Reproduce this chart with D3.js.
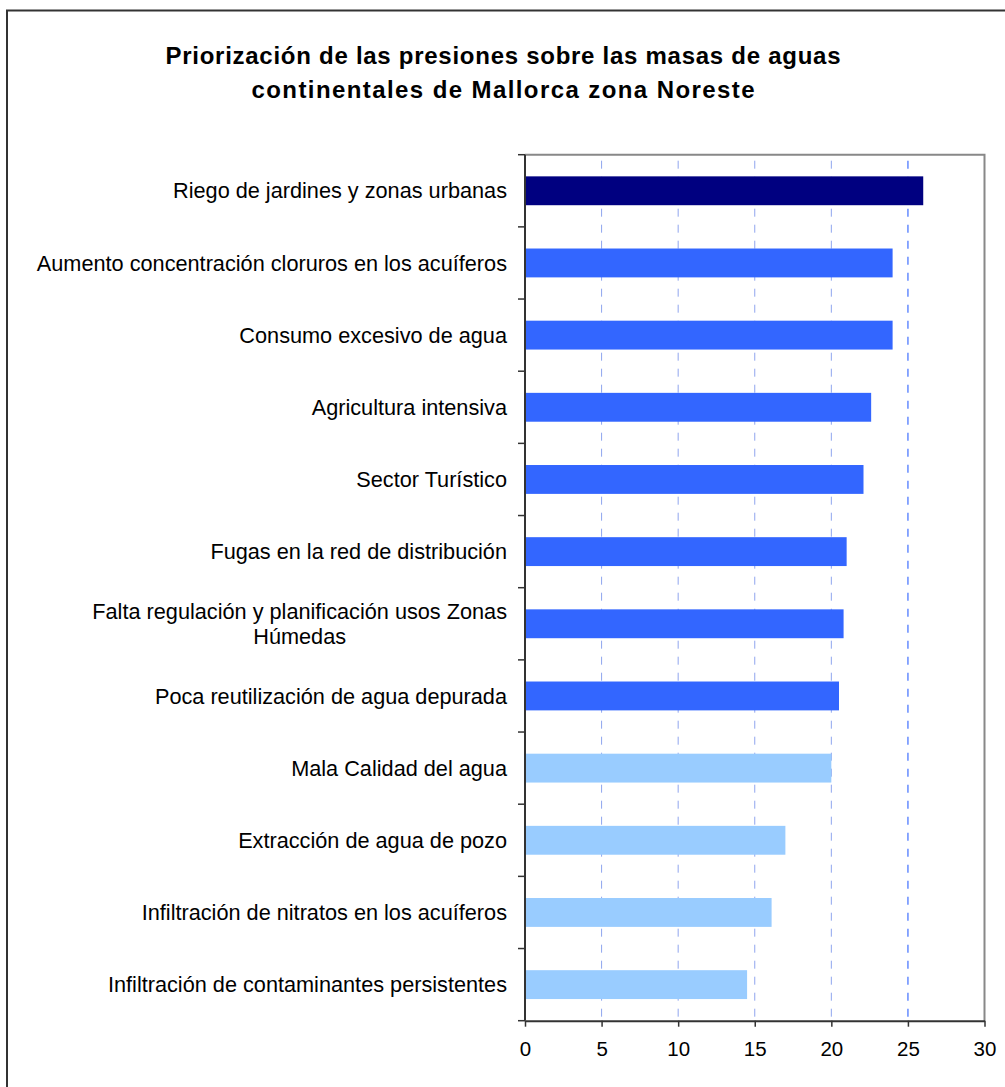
<!DOCTYPE html>
<html><head><meta charset="utf-8">
<script src="https://cdn.jsdelivr.net/npm/d3@7"></script>
<style>body{margin:0;background:#fff}svg{display:block}</style>
</head><body>
<svg id="c" width="1005" height="1087"></svg>
<script>
const titleLines = ["Priorización de las presiones sobre las masas de aguas", "continentales de Mallorca zona Noreste"];
const categories = [
  "Riego de jardines y zonas urbanas",
  "Aumento concentración cloruros en los acuíferos",
  "Consumo excesivo de agua",
  "Agricultura intensiva",
  "Sector Turístico",
  "Fugas en la red de distribución",
  "Falta regulación y planificación usos Zonas Húmedas",
  "Poca reutilización de agua depurada",
  "Mala Calidad del agua",
  "Extracción de agua de pozo",
  "Infiltración de nitratos en los acuíferos",
  "Infiltración de contaminantes persistentes"
];
const values = [26, 24, 24, 22.6, 22.1, 21, 20.8, 20.5, 20, 17, 16.1, 14.5];
const groups = ["top", "high", "high", "high", "high", "high", "high", "high", "low", "low", "low", "low"];
const xTicks = [0, 5, 10, 15, 20, 25, 30];

const colors = {top: "#000080", high: "#3366FF", low: "#99CCFF"};
const svg = d3.select("#c");
const font = "Arial, 'Liberation Sans', sans-serif";

// outer border
svg.append("rect").attr("x", 7).attr("y", 10.5).attr("width", 1010).attr("height", 1090)
  .attr("fill", "none").attr("stroke", "#333").attr("stroke-width", 2);

// title
const titleWidths = [675, 503];
svg.append("g").selectAll("text").data(titleLines).join("text")
  .attr("x", 503).attr("y", (d, i) => 64 + i * 34)
  .attr("text-anchor", "middle").attr("font-family", font).attr("font-weight", "bold")
  .attr("font-size", 24).attr("fill", "#000")
  .attr("textLength", (d, i) => titleWidths[i]).attr("lengthAdjust", "spacing")
  .text(d => d);

const L = 525, R = 984.5, T = 154.7, B = 1020.7;
const x = d3.scaleLinear().domain([0, 30]).range([L, R]);
const y = d3.scaleBand().domain(categories).range([T, B]).paddingInner(0.6).paddingOuter(0.3);

// plot border top/right
svg.append("path").attr("d", `M${L},${T}H${R}V${B}`).attr("fill", "none")
  .attr("stroke", "#888").attr("stroke-width", 2);

// gridlines
svg.append("g").selectAll("line").data(xTicks.filter(t => t > 0 && t < 30)).join("line")
  .attr("x1", d => x(d)).attr("x2", d => x(d)).attr("y1", T + 1).attr("y2", B)
  .attr("stroke", d => d === 25 ? "#7f9fff" : "#8fa5ee")
  .attr("stroke-width", d => d === 25 ? 1.8 : 1)
  .attr("stroke-dasharray", "8,8").attr("stroke-dashoffset", -5);

// bars
svg.append("g").selectAll("rect").data(categories).join("rect")
  .attr("x", x(0)).attr("y", d => y(d))
  .attr("width", (d, i) => x(values[i]) - x(0)).attr("height", y.bandwidth())
  .attr("fill", (d, i) => colors[groups[i]]);

// y axis: ticks at category boundaries
const step = y.step();
const boundaries = d3.range(categories.length + 1).map(i => T + i * step);
const ya = svg.append("g");
ya.append("line").attr("x1", L).attr("x2", L).attr("y1", T).attr("y2", B)
  .attr("stroke", "#333").attr("stroke-width", 2);
ya.selectAll("line.t").data(boundaries).join("line").attr("class", "t")
  .attr("x1", L - 7).attr("x2", L).attr("y1", d => d).attr("y2", d => d)
  .attr("stroke", "#333").attr("stroke-width", 1.5);

// y labels
const labelRight = 507;
const maxLabelWidth = 495;
const lg = svg.append("g").attr("font-family", font).attr("font-size", 21.7).attr("fill", "#000");
categories.forEach((c, i) => {
  const cy = y(c) + y.bandwidth() / 2;
  const t = lg.append("text").attr("x", labelRight).attr("y", cy).attr("dy", "0.35em")
    .attr("text-anchor", "end").text(c);
  const w = t.node().getComputedTextLength();
  if (w > maxLabelWidth) {
    const words = c.split(" ");
    const l1 = words.slice(0, -1).join(" "), l2 = words[words.length - 1];
    t.text(l1);
    const w1 = t.node().getComputedTextLength();
    t.remove();
    const cx = labelRight - w1 / 2;
    [l1, l2].forEach((s, j) => {
      lg.append("text").attr("x", cx).attr("y", cy + (j - 0.5) * 25).attr("dy", "0.35em")
        .attr("text-anchor", "middle").text(s);
    });
  }
});

// x axis
const xa = svg.append("g").attr("transform", `translate(0,${B})`)
  .call(d3.axisBottom(x).tickValues(xTicks).tickSize(6).tickSizeOuter(0).tickPadding(15));
xa.select(".domain").attr("stroke", "#333").attr("stroke-width", 2);
xa.selectAll(".tick line").attr("stroke", "#333").attr("stroke-width", 1.5);
xa.selectAll(".tick text").attr("font-family", font).attr("font-size", 20.5).attr("fill", "#000");
</script>
</body></html>
